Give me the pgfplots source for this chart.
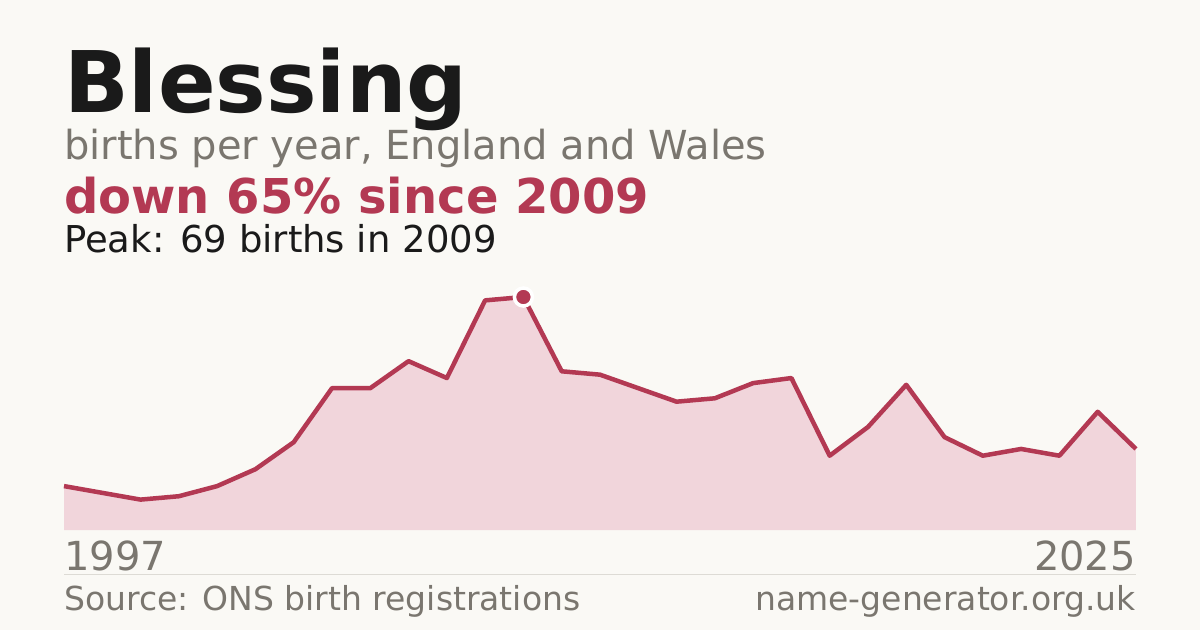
\documentclass[border=0pt]{standalone}
\usepackage{pgfplots}
\pgfplotsset{compat=1.18}
\usepackage{fontspec}
\setmainfont{DejaVu Sans}

\definecolor{bg}{HTML}{FAF9F5}
\definecolor{crimson}{HTML}{B33953}
\definecolor{areafill}{HTML}{F1D5DB}
\definecolor{mutedgray}{HTML}{7A766F}
\definecolor{ink}{HTML}{1A1A1A}
\definecolor{rule}{HTML}{DDDBD5}

\begin{document}
\begin{tikzpicture}[x=1pt,y=1pt]
  % canvas, 1pt = 1px of the 1200x630 reference
  \fill[bg] (0,0) rectangle (1200,630);

  % headings
  \node[anchor=base west,inner sep=0pt,text=ink,font=\fontsize{85}{85}\selectfont\bfseries] at (64,517) {Blessing};
  \node[anchor=base west,inner sep=0pt,text=mutedgray,font=\fontsize{40}{40}\selectfont] at (64,470) {births per year, England and Wales};
  \node[anchor=base west,inner sep=0pt,text=crimson,font=\fontsize{48}{48}\selectfont\bfseries] at (64,416) {down 65\% since 2009};
  \node[anchor=base west,inner sep=0pt,text=ink,font=\fontsize{37}{37}\selectfont] at (64,377) {Peak: 69 births in 2009};

  \begin{axis}[
      at={(64pt,100pt)}, anchor=origin,
      scale only axis, width=1072pt, height=233pt,
      xmin=1997, xmax=2025, ymin=0, ymax=69,
      axis lines=none, clip=false,
    ]
    \addplot[fill=areafill, draw=none] coordinates {
      (1997,13) (1998,11) (1999,9) (2000,10) (2001,13) (2002,18) (2003,26)
      (2004,42) (2005,42) (2006,50) (2007,45) (2008,68) (2009,69) (2010,47)
      (2011,46) (2012,42) (2013,38) (2014,39) (2015,43.5) (2016,45) (2017,22)
      (2018,30.5) (2019,43) (2020,27.5) (2021,22) (2022,24) (2023,22) (2024,35)
      (2025,24)
    } \closedcycle;
    \addplot[crimson, line width=4.5pt, line join=round, line cap=butt] coordinates {
      (1997,13) (1998,11) (1999,9) (2000,10) (2001,13) (2002,18) (2003,26)
      (2004,42) (2005,42) (2006,50) (2007,45) (2008,68) (2009,69) (2010,47)
      (2011,46) (2012,42) (2013,38) (2014,39) (2015,43.5) (2016,45) (2017,22)
      (2018,30.5) (2019,43) (2020,27.5) (2021,22) (2022,24) (2023,22) (2024,35)
      (2025,24)
    };
    % peak marker
    \addplot[only marks, mark=*, mark size=9pt,
      mark options={fill=crimson, draw=white, line width=3.5pt}] coordinates {(2009,69)};
  \end{axis}

  % year labels and footer
  \node[anchor=base west,inner sep=0pt,text=mutedgray,font=\fontsize{40}{40}\selectfont] at (64,60) {1997};
  \node[anchor=base east,inner sep=0pt,text=mutedgray,font=\fontsize{40}{40}\selectfont] at (1136,60) {2025};
  \draw[rule, line width=1pt] (64,56) -- (1136,56);
  \node[anchor=base west,inner sep=0pt,text=mutedgray,font=\fontsize{33}{33}\selectfont] at (64,20) {Source: ONS birth registrations};
  \node[anchor=base east,inner sep=0pt,text=mutedgray,font=\fontsize{33}{33}\selectfont] at (1136,20) {name-generator.org.uk};
\end{tikzpicture}
\end{document}
